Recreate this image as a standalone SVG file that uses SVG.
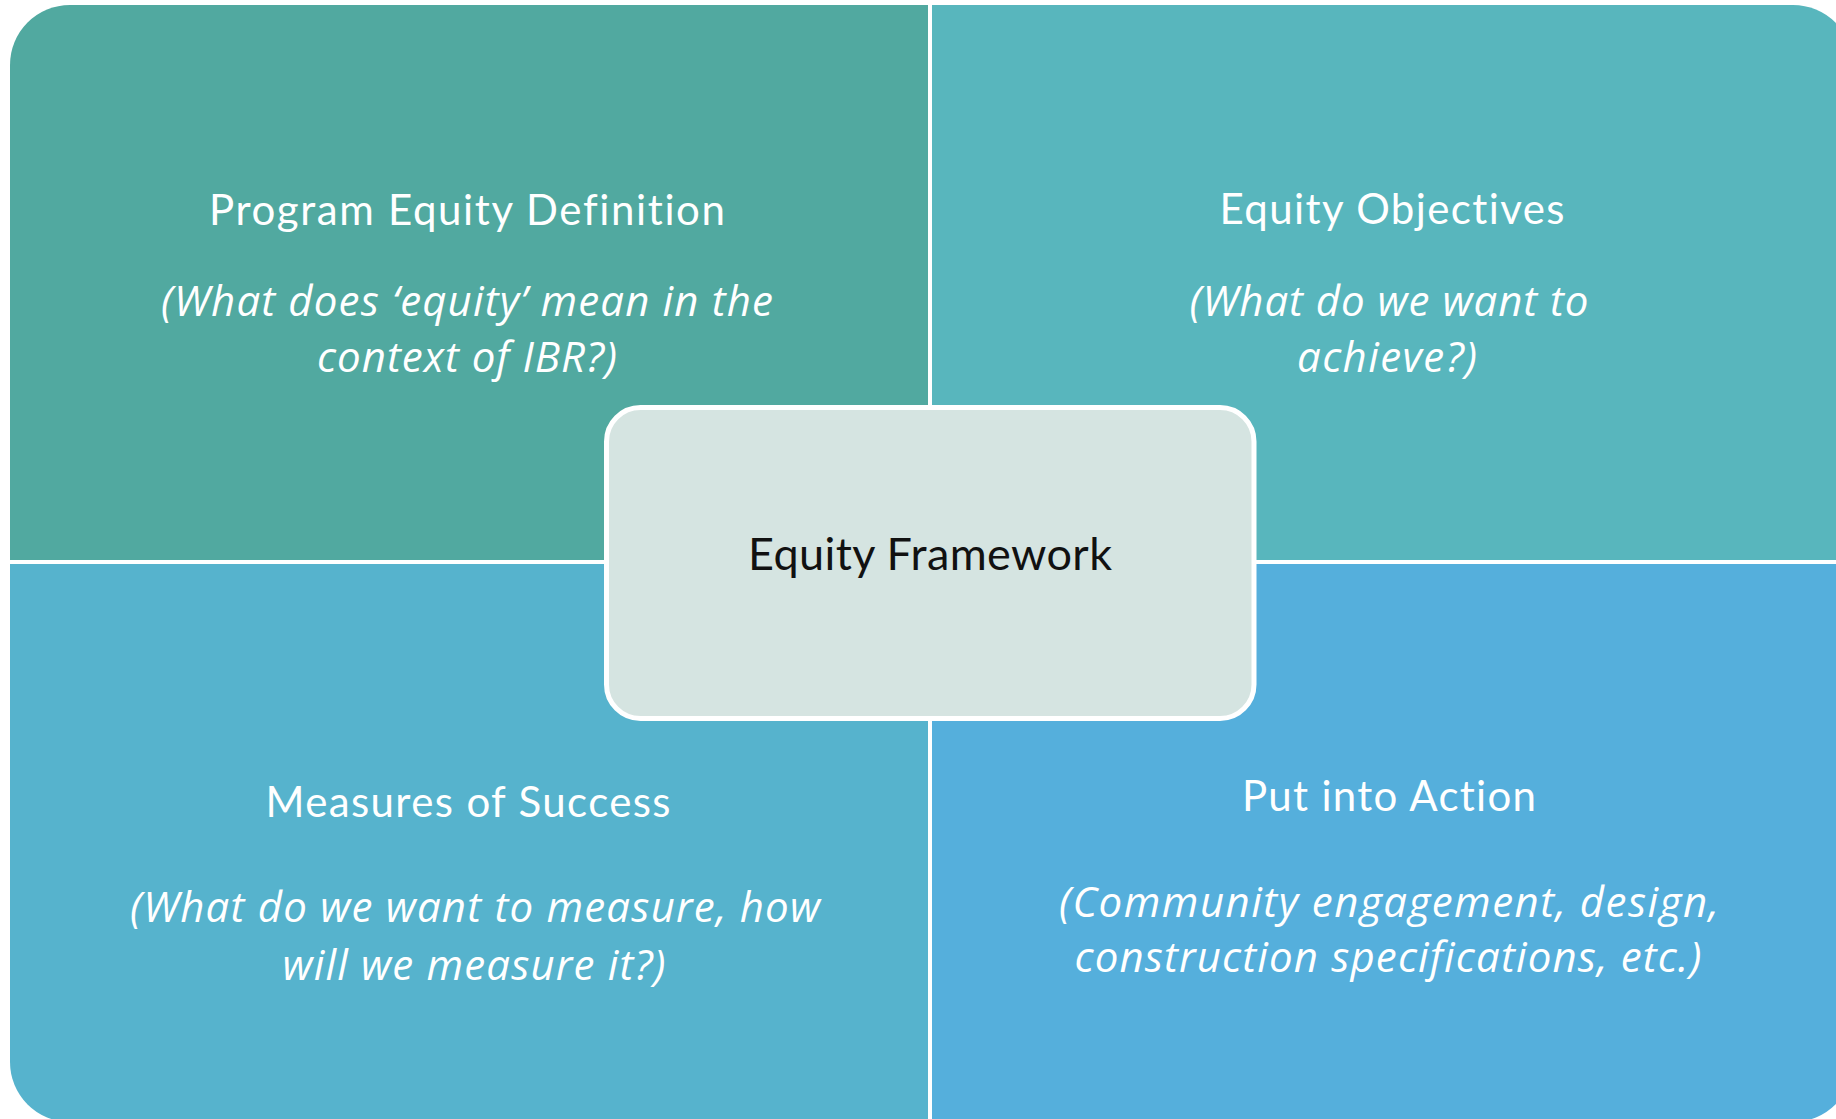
<svg xmlns="http://www.w3.org/2000/svg" width="1836" height="1119" viewBox="0 0 1836 1119">
<style>
.title{font-family:"Source Sans Pro",Lato,"Open Sans",sans-serif;font-size:42px;fill:#ffffff;text-anchor:middle;font-variant-ligatures:none}
.sub{font-family:"Source Sans Pro","Open Sans",Lato,sans-serif;font-size:42px;font-style:italic;fill:#ffffff;text-anchor:middle;font-variant-ligatures:none}
.center{font-family:"Source Sans Pro",Lato,"Open Sans",sans-serif;font-size:45px;fill:#111111;text-anchor:middle}
</style>
<defs>
<clipPath id="outer"><rect x="10" y="5" width="1843" height="1117" rx="60" ry="60"/></clipPath>
</defs>
<rect width="1836" height="1119" fill="#ffffff"/>
<g clip-path="url(#outer)">
<g id="program-equity-definition">
<rect x="0" y="0" width="928" height="560" fill="#51A9A0"/>
<text class="title" x="467" y="225" textLength="516">Program Equity Definition</text>
<text class="sub" x="467" y="316" textLength="612">(What does ‘equity’ mean in the</text>
<text class="sub" x="467" y="372" textLength="300">context of IBR?)</text>
</g>
<g id="equity-objectives">
<rect x="932" y="0" width="930" height="560" fill="#58B6BD"/>
<text class="title" x="1392" y="224" textLength="345">Equity Objectives</text>
<text class="sub" x="1389" y="316" textLength="399">(What do we want to</text>
<text class="sub" x="1387" y="372" textLength="180">achieve?)</text>
</g>
<g id="measures-of-success">
<rect x="0" y="564" width="928" height="560" fill="#56B3CD"/>
<text class="title" x="468" y="817" textLength="405">Measures of Success</text>
<text class="sub" x="475" y="922" textLength="690">(What do we want to measure, how</text>
<text class="sub" x="474" y="980" textLength="383">will we measure it?)</text>
</g>
<g id="put-into-action">
<rect x="932" y="564" width="930" height="560" fill="#55AFDC"/>
<text class="title" x="1389" y="811" textLength="294">Put into Action</text>
<text class="sub" x="1389" y="917" textLength="660">(Community engagement, design,</text>
<text class="sub" x="1388" y="972" textLength="627">construction specifications, etc.)</text>
</g>
</g>
<g id="connectors"></g>
<g id="equity-framework">
<rect x="606.5" y="407.5" width="647.5" height="311" rx="34" ry="34" fill="#D5E4E1" stroke="#ffffff" stroke-width="5"/>
<text class="center" x="930" y="570" textLength="364">Equity Framework</text>
</g>
</svg>
